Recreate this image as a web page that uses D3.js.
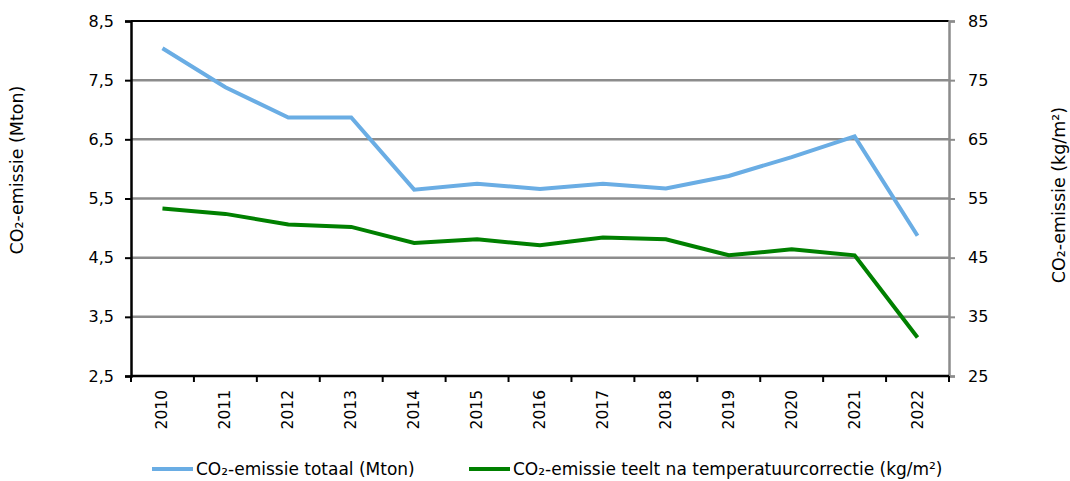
<!DOCTYPE html>
<html>
<head>
<meta charset="utf-8">
<script src="https://cdn.jsdelivr.net/npm/d3@7"></script>
<style>
  body { margin: 0; background: #fff; }
  text { font-family: "DejaVu Sans", Verdana, sans-serif; fill: #000; }
</style>
</head>
<body>
<div id="chart"></div>
<script>
var years = ["2010", "2011", "2012", "2013", "2014", "2015", "2016", "2017", "2018", "2019", "2020", "2021", "2022"];
var totalMton = [8.04, 7.38, 6.87, 6.87, 5.65, 5.75, 5.66, 5.75, 5.67, 5.88, 6.2, 6.55, 4.87];
var teeltKgM2 = [53.3, 52.4, 50.6, 50.2, 47.5, 48.1, 47.1, 48.4, 48.1, 45.4, 46.4, 45.4, 31.5];
var leftTicks = [2.5, 3.5, 4.5, 5.5, 6.5, 7.5, 8.5];
var rightTicks = [25, 35, 45, 55, 65, 75, 85];

var svgWidth = 1070;
var svgHeight = 481;
var margin = { top: 21, right: 121, bottom: 105, left: 131 };
var width = svgWidth - margin.left - margin.right;
var height = svgHeight - margin.top - margin.bottom;

var svg = d3.select("#chart")
  .append("svg")
  .attr("width", svgWidth)
  .attr("height", svgHeight);

var chartGroup = svg.append("g")
  .attr("transform", `translate(${margin.left}, ${margin.top})`);

// scales
var x = d3.scaleBand().domain(years).range([0, width]);
var yLeft = d3.scaleLinear().domain([2.5, 8.5]).range([height, 0]);
var yRight = d3.scaleLinear().domain([25, 85]).range([height, 0]);
var fmt = d => d3.format(".1f")(d).replace(".", ",");

// gridlines
chartGroup.selectAll(".grid")
  .data(leftTicks.slice(1, -1))
  .enter()
  .append("line")
  .attr("x1", 0)
  .attr("x2", width)
  .attr("y1", d => yLeft(d))
  .attr("y2", d => yLeft(d))
  .attr("stroke", "#8c8c8c")
  .attr("stroke-width", 2.5);

// top border
chartGroup.append("line")
  .attr("x1", 0).attr("x2", width)
  .attr("y1", 0).attr("y2", 0)
  .attr("stroke", "#000").attr("stroke-width", 2);

// left axis
var leftAxis = chartGroup.append("g")
  .call(d3.axisLeft(yLeft).tickValues(leftTicks).tickFormat(fmt).tickSize(6).tickPadding(11));
leftAxis.select(".domain").attr("stroke", "#000").attr("stroke-width", 2.5);
leftAxis.selectAll(".tick line").attr("stroke", "#000").attr("stroke-width", 2);
leftAxis.selectAll("text").style("font-size", "16px");

// right axis
var rightAxis = chartGroup.append("g")
  .attr("transform", `translate(${width}, 0)`)
  .call(d3.axisRight(yRight).tickValues(rightTicks).tickSize(6).tickPadding(13));
rightAxis.select(".domain").attr("stroke", "#8c8c8c").attr("stroke-width", 2.5);
rightAxis.selectAll(".tick line").attr("stroke", "#8c8c8c").attr("stroke-width", 2);
rightAxis.selectAll("text").style("font-size", "16px");

// bottom axis with ticks between categories
var bottom = chartGroup.append("g")
  .attr("transform", `translate(0, ${height})`);
bottom.append("line")
  .attr("x1", 0).attr("x2", width)
  .attr("stroke", "#000").attr("stroke-width", 2.5);
bottom.selectAll(".sep")
  .data(years.concat(["end"]))
  .enter()
  .append("line")
  .attr("x1", (d, i) => i * x.bandwidth())
  .attr("x2", (d, i) => i * x.bandwidth())
  .attr("y1", 0).attr("y2", 6)
  .attr("stroke", "#000").attr("stroke-width", 2);
bottom.selectAll(".yr")
  .data(years)
  .enter()
  .append("text")
  .attr("transform", d => `translate(${x(d) + x.bandwidth() / 2 + 5}, 14) rotate(-90)`)
  .attr("text-anchor", "end")
  .style("font-size", "15.5px")
  .text(d => d);

// lines
var lineLeft = d3.line()
  .x((d, i) => x(years[i]) + x.bandwidth() / 2)
  .y(d => yLeft(d));
var lineRight = d3.line()
  .x((d, i) => x(years[i]) + x.bandwidth() / 2)
  .y(d => yRight(d));

chartGroup.append("path")
  .datum(totalMton)
  .attr("d", lineLeft)
  .attr("fill", "none")
  .attr("stroke", "#6aade4")
  .attr("stroke-width", 4);

chartGroup.append("path")
  .datum(teeltKgM2)
  .attr("d", lineRight)
  .attr("fill", "none")
  .attr("stroke", "#008000")
  .attr("stroke-width", 4);

// axis titles
svg.append("text")
  .attr("transform", "translate(23, 170) rotate(-90)")
  .attr("text-anchor", "middle")
  .style("font-size", "17.5px")
  .text("CO₂-emissie (Mton)");

svg.append("text")
  .attr("transform", "translate(1065, 195) rotate(-90)")
  .attr("text-anchor", "middle")
  .style("font-size", "17.5px")
  .text("CO₂-emissie (kg/m²)");

// legend
var legendItems = [
  { label: "CO₂-emissie totaal (Mton)", color: "#6aade4", x: 152 },
  { label: "CO₂-emissie teelt na temperatuurcorrectie (kg/m²)", color: "#008000", x: 469 }
];
var legend = svg.append("g").attr("transform", "translate(0, 469)");
legend.selectAll("line")
  .data(legendItems)
  .enter()
  .append("line")
  .attr("x1", d => d.x).attr("x2", d => d.x + 41)
  .attr("y1", 0).attr("y2", 0)
  .attr("stroke", d => d.color)
  .attr("stroke-width", 4);
legend.selectAll("text")
  .data(legendItems)
  .enter()
  .append("text")
  .attr("x", d => d.x + 44)
  .attr("y", 6)
  .style("font-size", "17px")
  .text(d => d.label);
</script>
</body>
</html>
